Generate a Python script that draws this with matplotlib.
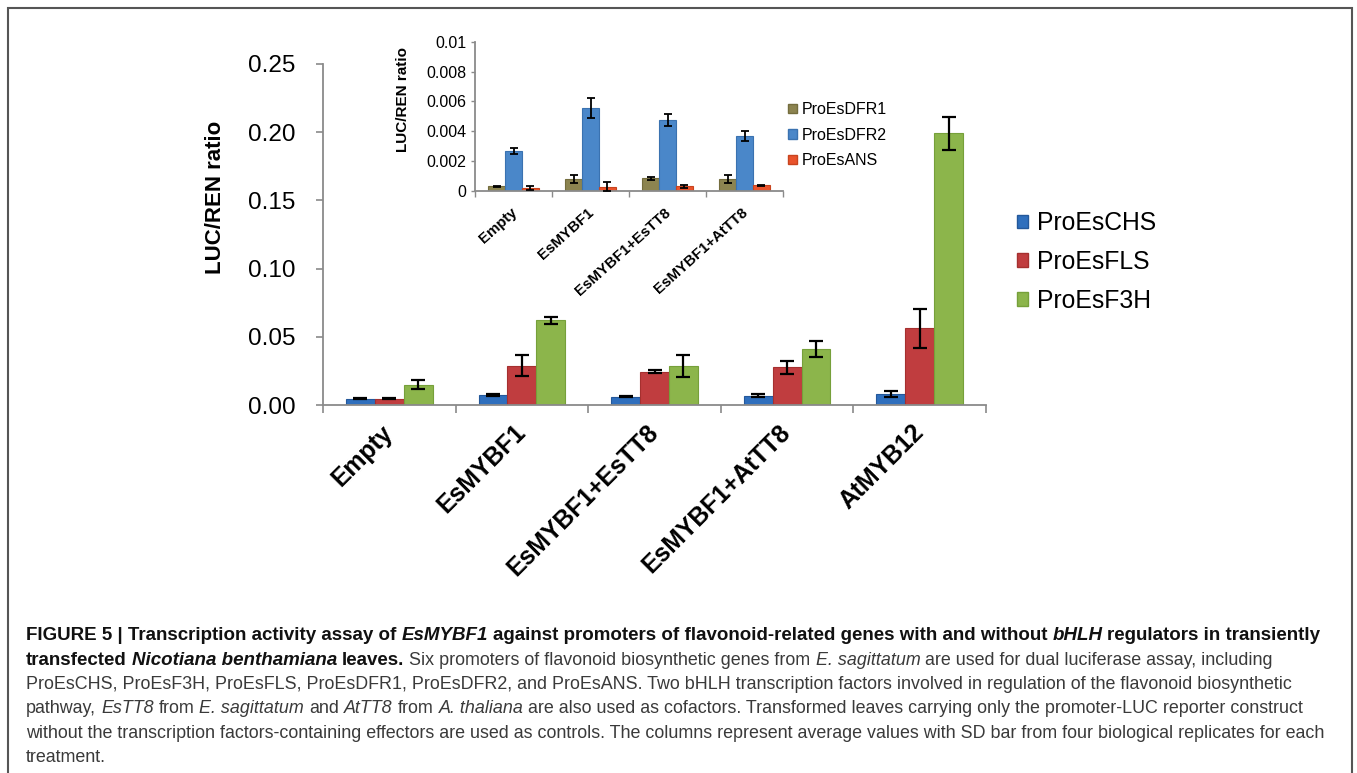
import matplotlib
matplotlib.use("Agg")
import matplotlib.pyplot as plt
import numpy as np
from matplotlib.patches import Patch, Rectangle

plt.rcParams['font.family'] = ['Liberation Sans', 'DejaVu Sans']

# ------------------ DADOS: GRAFICO PRINCIPAL ------------------
grupos = ["Empty", "EsMYBF1", "EsMYBF1+EsTT8", "EsMYBF1+AtTT8", "AtMYB12"]
series = ["ProEsCHS", "ProEsFLS", "ProEsF3H"]
chs = [0.0047, 0.0073, 0.0059, 0.0069, 0.0081]
chs_sd = [0.0004, 0.0004, 0.0004, 0.0013, 0.0025]
fls = [0.0047, 0.0287, 0.0243, 0.0277, 0.0561]
fls_sd = [0.0004, 0.0076, 0.0012, 0.0049, 0.0143]
f3h = [0.0150, 0.0620, 0.0287, 0.0412, 0.1993]
f3h_sd = [0.0034, 0.0024, 0.0081, 0.0060, 0.0121]

# ------------------ DADOS: GRAFICO INSERIDO ------------------
grupos_inset = ["Empty", "EsMYBF1", "EsMYBF1+EsTT8", "EsMYBF1+AtTT8"]
series_inset = ["ProEsDFR1", "ProEsDFR2", "ProEsANS"]
dfr1 = [0.00033, 0.00080, 0.00087, 0.00078]
dfr1_sd = [0.00003, 0.00026, 0.00010, 0.00027]
dfr2 = [0.00266, 0.00558, 0.00478, 0.00368]
dfr2_sd = [0.00020, 0.00067, 0.00040, 0.00032]
ans = [0.00018, 0.00030, 0.00031, 0.00038]
ans_sd = [0.00013, 0.00027, 0.00010, 0.00005]

cores = ["#2f6fbd", "#c03d3f", "#8cb54b"]
bordas = ["#24589a", "#a5302f", "#76a03a"]
cores_inset = ["#8c8450", "#4a87c9", "#e9532c"]
bordas_inset = ["#746d3e", "#3a72b0", "#c8441f"]

W, H = 1357, 773
fig = plt.figure(figsize=(W / 100, H / 100), dpi=100)


def px(x0, y0, x1, y1):
    """Converte caixa em pixels (topo-esquerda) para fracao da figura."""
    return [x0 / W, 1 - y1 / H, (x1 - x0) / W, (y1 - y0) / H]


def desenhar_barras(ax, valores, erros, cor, borda, largura, cap, lw):
    n = len(valores[0])
    x = np.arange(n)
    for i in range(3):
        ax.bar(x + (i - 1) * largura, valores[i], largura, color=cor[i],
               edgecolor=borda[i], linewidth=0.8, zorder=2,
               yerr=erros[i], error_kw=dict(ecolor="black", capsize=cap,
                                            elinewidth=lw, capthick=lw, zorder=3))
    ax.set_xlim(-0.5, n - 0.5)
    ax.set_xticks(np.arange(n + 1) - 0.5)
    ax.set_xticklabels([])
    for lado in ["top", "right"]:
        ax.spines[lado].set_visible(False)
    for lado in ["left", "bottom"]:
        ax.spines[lado].set_color("#8a8a8a")
        ax.spines[lado].set_linewidth(1.3)


# ------------------ GRAFICO PRINCIPAL ------------------
ax = fig.add_axes(px(323, 64, 986, 405))
desenhar_barras(ax, [chs, fls, f3h], [chs_sd, fls_sd, f3h_sd],
                cores, bordas, 0.218, 5, 1.6)
ax.set_ylim(0, 0.25)
ax.set_yticks(np.arange(0, 0.26, 0.05))
ax.set_yticklabels([f"{v:.2f}" for v in np.arange(0, 0.26, 0.05)])
ax.tick_params(axis="y", length=5, width=1.2, color="#8a8a8a",
               labelsize=17.5, pad=15)
ax.tick_params(axis="x", length=6, width=1.2, color="#8a8a8a")
for i, g in enumerate(grupos):
    ax.text(i + 0.0, -0.0175, g, transform=ax.transData, rotation=45,
            rotation_mode="anchor", ha="right", va="center",
            fontsize=17.8, fontweight="bold")
ax.set_ylabel("LUC/REN ratio", fontsize=16, fontweight="bold")
ax.yaxis.set_label_coords(-0.146, 0.61)

ax.legend([Patch(facecolor=c, edgecolor=b) for c, b in zip(cores, bordas)],
          series, loc="upper left", bbox_to_anchor=(1017 / W, 1 - 211 / H),
          bbox_transform=fig.transFigure, frameon=False, fontsize=17.8,
          handlelength=0.45, handleheight=0.45, handletextpad=0.35,
          labelspacing=0.6, borderpad=0, borderaxespad=0)

# ------------------ GRAFICO INSERIDO ------------------
axi = fig.add_axes(px(475, 41.7, 783, 191))
desenhar_barras(axi, [dfr1, dfr2, ans], [dfr1_sd, dfr2_sd, ans_sd],
                cores_inset, bordas_inset, 0.22, 3, 1.3)
axi.patch.set_alpha(0)
axi.set_ylim(0, 0.01)
axi.set_yticks([0, 0.002, 0.004, 0.006, 0.008, 0.01])
axi.set_yticklabels(["0", "0.002", "0.004", "0.006", "0.008", "0.01"])
axi.tick_params(axis="y", length=3, width=1, color="#8a8a8a",
                labelsize=11.5, pad=3)
axi.tick_params(axis="x", length=4, width=1, color="#8a8a8a")
for i, g in enumerate(grupos_inset):
    axi.text(i + 0.02, -0.0013, g, transform=axi.transData, rotation=42,
             rotation_mode="anchor", ha="right", va="center",
             fontsize=10.8, fontweight="bold")
axi.set_ylabel("LUC/REN ratio", fontsize=11, fontweight="bold")
axi.yaxis.set_label_coords(-0.212, 0.61)
axi.legend([Patch(facecolor=c, edgecolor=b) for c, b in zip(cores_inset, bordas_inset)],
           series_inset, loc="upper left", bbox_to_anchor=(788 / W, 1 - 102 / H),
           bbox_transform=fig.transFigure, frameon=False, fontsize=11.5,
           handlelength=0.55, handleheight=0.55, handletextpad=0.3,
           labelspacing=0.66, borderpad=0, borderaxespad=0)

# ------------------ MOLDURA ------------------
fig.patches.append(Rectangle((8 / W, -0.01), 1344 / W, 1 - 8 / H + 0.01,
                             transform=fig.transFigure, fill=False,
                             edgecolor="#555555", linewidth=1.5))

# ------------------ LEGENDA DA FIGURA ------------------
# cada trecho: (texto, estilo) -> b = negrito, bi = negrito italico, r = normal, i = italico
linhas = [
    [("FIGURE 5 | Transcription activity assay of", "b"), ("EsMYBF1", "bi"),
     ("against promoters of flavonoid-related genes with and without", "b"),
     ("bHLH", "bi"), ("regulators in transiently", "b")],
    [("transfected", "b"), ("Nicotiana benthamiana", "bi"), ("leaves.", "b"),
     ("Six promoters of flavonoid biosynthetic genes from", "r"),
     ("E. sagittatum", "i"), ("are used for dual luciferase assay, including", "r")],
    [("ProEsCHS, ProEsF3H, ProEsFLS, ProEsDFR1, ProEsDFR2, and ProEsANS. Two bHLH "
      "transcription factors involved in regulation of the flavonoid biosynthetic", "r")],
    [("pathway,", "r"), ("EsTT8", "i"), ("from", "r"), ("E. sagittatum", "i"),
     ("and", "r"), ("AtTT8", "i"), ("from", "r"), ("A. thaliana", "i"),
     ("are also used as cofactors. Transformed leaves carrying only the "
      "promoter-LUC reporter construct", "r")],
    [("without the transcription factors-containing effectors are used as controls. "
      "The columns represent average values with SD bar from four biological "
      "replicates for each", "r")],
    [("treatment.", "r")],
]
estilos = {
    "b": dict(fontweight="bold", fontstyle="normal", color="#111111", fontsize=13.5),
    "bi": dict(fontweight="bold", fontstyle="italic", color="#111111", fontsize=13.5),
    "r": dict(fontweight="normal", fontstyle="normal", color="#3a3a3a", fontsize=12.9),
    "i": dict(fontweight="normal", fontstyle="italic", color="#3a3a3a", fontsize=12.9),
}
renderer = fig.canvas.get_renderer()


def largura_px(s, estilo):
    t = fig.text(0, 0, s, **estilos[estilo])
    w = t.get_window_extent(renderer).width
    t.remove()
    return w


espaco = largura_px("a a", "r") - largura_px("aa", "r")
y0 = 636
for k, linha in enumerate(linhas):
    x = 26
    y = y0 + k * 24.3
    for trecho, estilo in linha:
        t = fig.text(x / W, 1 - y / H, trecho, va="center", ha="left",
                     **estilos[estilo])
        x += t.get_window_extent(renderer).width + espaco

fig.savefig("out.png", dpi=100)
